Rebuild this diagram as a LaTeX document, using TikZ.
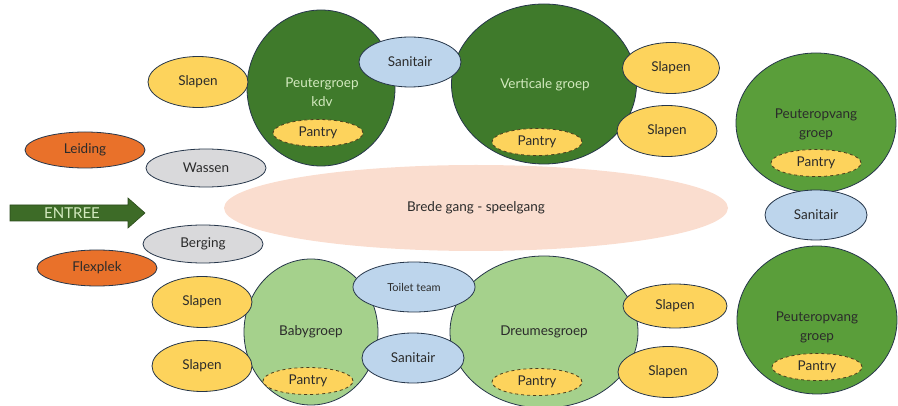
\documentclass[tikz,border=0pt]{standalone}
\usepackage{fontspec}
\setmainfont{Lato}
\usetikzlibrary{shapes.geometric}

\definecolor{donkergroen}{HTML}{3F7A2B}
\definecolor{middengroen}{HTML}{5A9E3A}
\definecolor{lichtgroen}{HTML}{A5D18C}
\definecolor{geel}{HTML}{FDD35C}
\definecolor{oranje}{HTML}{E9712A}
\definecolor{grijs}{HTML}{D9D9DB}
\definecolor{lichtblauw}{HTML}{BDD5EC}
\definecolor{perzik}{HTML}{FADDCF}
\definecolor{rand}{HTML}{26364A}
\definecolor{pijlgroen}{HTML}{3D6B27}
\definecolor{tekstlicht}{HTML}{D2E9BE}
\definecolor{tekst}{HTML}{2B2B2B}

\tikzstyle{room}=[ellipse, draw=rand, line width=0.8pt, inner sep=0pt, text=tekst,
  font=\fontsize{13.5}{19}\selectfont, align=center]
\tikzstyle{label}=[text=tekst, font=\fontsize{13.5}{19}\selectfont, align=center]
\tikzstyle{group}=[room, fill=donkergroen]
\tikzstyle{pgroup}=[room, fill=middengroen]
\tikzstyle{bgroup}=[room, fill=lichtgroen]
\tikzstyle{slapen}=[room, fill=geel, minimum width=100pt, minimum height=51pt]
\tikzstyle{pantry}=[room, fill=geel, draw=black!70!geel, dashed, minimum width=90pt, minimum height=27pt]
\tikzstyle{sanitair}=[room, fill=lichtblauw, minimum width=102pt, minimum height=50pt]
\tikzstyle{kantoor}=[room, fill=oranje, minimum width=120pt, minimum height=36pt]
\tikzstyle{ruimte}=[room, fill=grijs, minimum width=120pt, minimum height=38pt]

\begin{document}
\begin{tikzpicture}[x=1pt, y=-1pt]
  \useasboundingbox (0,0) rectangle (898,406);

  % gang en entree
  \node[ellipse, fill=perzik, minimum width=504pt, minimum height=86pt, inner sep=0pt,
    label] (gang) at (476,208) {Brede gang - speelgang};
  \filldraw[fill=pijlgroen, draw=pijlgroen!70!black, line width=0.6pt]
    (10,205) -- (128,205) -- (128,198) -- (145,213) -- (128,228)
    -- (128,221) -- (10,221) -- cycle;
  \node[label, text=tekstlicht, font=\fontsize{15}{17}\selectfont] (entree) at (72,213) {ENTREE};

  % bovenkant
  \node[group, minimum width=148pt, minimum height=156pt] (kdv) at (321,88) {};
  \node[label, text=tekstlicht] (kdvtekst) at (322,92) {Peutergroep\\kdv};
  \node[pantry] (kdvpantry) at (318,133) {Pantry};
  \node[group, minimum width=185pt, minimum height=160pt] (verticaal) at (544,84) {};
  \node[label, text=tekstlicht] (vtekst) at (545,85) {Verticale groep};
  \node[pantry] (vpantry) at (537,142) {Pantry};
  \node[sanitair] (sanboven) at (410,62) {Sanitair};
  \node[slapen] (slapen1) at (198,82) {Slapen};
  \node[slapen, minimum width=97pt] (slapen2) at (671,68) {Slapen};
  \node[slapen] (slapen3) at (667,131) {Slapen};

  % links
  \node[kantoor] (leiding) at (85,150) {Leiding};
  \node[ruimte] (wassen) at (206,168) {Wassen};
  \node[ruimte] (berging) at (203,244) {Berging};
  \node[kantoor] (flexplek) at (97,268) {Flexplek};

  % onderkant
  \node[bgroup, minimum width=134pt, minimum height=146pt] (baby) at (311,332) {Babygroep};
  \node[pantry] (bpantry) at (308,381) {Pantry};
  \node[bgroup, minimum width=188pt, minimum height=152pt] (dreumes) at (544,332) {Dreumesgroep};
  \node[pantry] (dpantry) at (537,382) {Pantry};
  \node[sanitair, minimum width=122pt, font=\fontsize{11}{13}\selectfont] (toilet) at (414,287) {Toilet team};
  \node[sanitair] (sanonder) at (413,358) {Sanitair};
  \node[slapen] (slapen4) at (202,302) {Slapen};
  \node[slapen] (slapen5) at (202,366) {Slapen};
  \node[slapen, minimum width=104pt, minimum height=44pt] (slapen6) at (675,306) {Slapen};
  \node[slapen] (slapen7) at (668,372) {Slapen};

  % peuteropvang
  \node[pgroup, minimum width=160pt, minimum height=140pt] (po1) at (816,123) {};
  \node[label] (po1tekst) at (816,124) {Peuteropvang\\groep};
  \node[pantry] (po1pantry) at (816,163) {Pantry};
  \node[sanitair] (sanrechts) at (816,215) {Sanitair};
  \node[pgroup, minimum width=160pt, minimum height=148pt] (po2) at (817,320) {};
  \node[label] (po2tekst) at (817,327) {Peuteropvang\\groep};
  \node[pantry] (po2pantry) at (817,367) {Pantry};
\end{tikzpicture}
\end{document}
